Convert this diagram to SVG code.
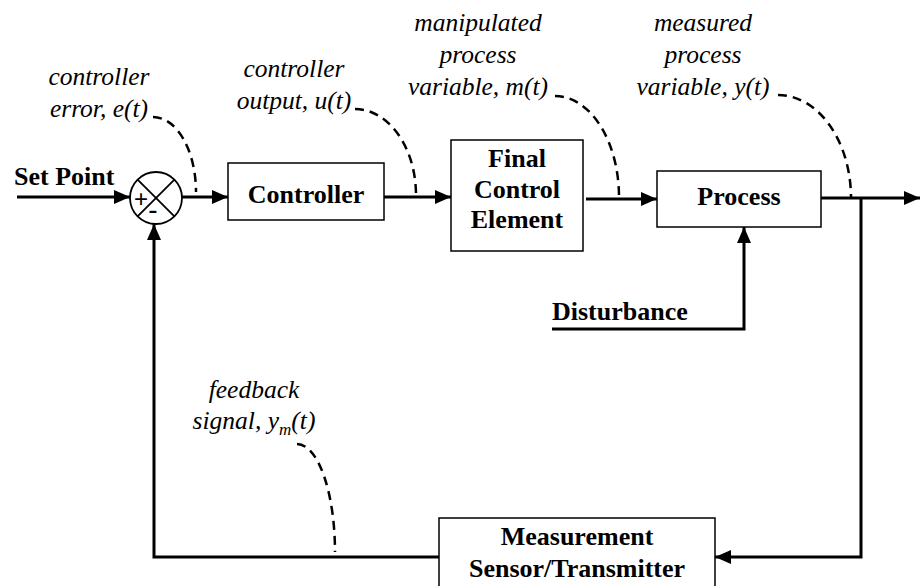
<svg xmlns="http://www.w3.org/2000/svg" width="920" height="586" viewBox="0 0 920 586">
<style>
.box{fill:#fff;stroke:#000;stroke-width:1.5}
.m{text-anchor:middle}
.ln{fill:none;stroke:#000;stroke-width:3}
.arr{marker-end:url(#ah)}
.dash{fill:none;stroke:#000;stroke-width:2.5;stroke-dasharray:9 6}
</style>
<defs>
<marker id="ah" markerUnits="userSpaceOnUse" markerWidth="17" markerHeight="14" refX="16" refY="7" orient="auto">
<path d="M0,0 L16,7 L0,14 z" fill="#000"/>
</marker>
</defs>
<g id="connectors">
<path class="ln arr" d="M17,197 L130,197"/>
<path class="ln arr" d="M182,197 L228,197"/>
<path class="ln arr" d="M384,197 L451,197"/>
<path class="ln arr" d="M586,199 L657,199"/>
<path class="ln arr" d="M821,198 L920,198"/>
<path class="ln arr" d="M861,198 L861,557 L715,557"/>
<path class="ln arr" d="M439,557 L154,557 L154,224"/>
<path class="ln arr" d="M552,329 L744,329 L744,227"/>
<path class="dash" d="M153,117 A43,75 0 0 1 196,192"/>
<path class="dash" d="M355,109 A61,86 0 0 1 416,195"/>
<path class="dash" d="M555,96 A64,101 0 0 1 619,197"/>
<path class="dash" d="M778,95 A73,103 0 0 1 851,198"/>
<path class="dash" d="M297,444 A38,108 0 0 1 335,552"/>
</g>
<g id="sum">
<circle cx="156" cy="198" r="26" fill="#fff" stroke="#000" stroke-width="1.8"/>
<line x1="137.6" y1="179.6" x2="174.4" y2="216.4" stroke="#000" stroke-width="1.8"/>
<line x1="174.4" y1="179.6" x2="137.6" y2="216.4" stroke="#000" stroke-width="1.8"/>
<text x="141" y="207" font-family="Liberation Sans, Arial, sans-serif" font-size="24" text-anchor="middle">+</text>
<text x="153" y="219" font-family="Liberation Sans, Arial, sans-serif" font-size="28" text-anchor="middle">-</text>
</g>
<g font-family="Liberation Serif, Times New Roman, Times, Noto Serif, DejaVu Serif, serif" font-weight="bold" font-size="26" fill="#000">
<g id="controller">
<rect class="box" x="228" y="163" width="156" height="57"/>
<text class="m" x="306" y="203">Controller</text>
</g>
<g id="fce">
<rect class="box" x="451" y="140" width="132" height="111"/>
<text class="m" x="517" y="167">Final</text>
<text class="m" x="517" y="198">Control</text>
<text class="m" x="517" y="228">Element</text>
</g>
<g id="process">
<rect class="box" x="657" y="171" width="164" height="56"/>
<text class="m" x="739" y="205">Process</text>
</g>
<g id="measurement">
<rect class="box" x="439" y="518" width="276" height="80"/>
<text class="m" x="577" y="545">Measurement</text>
<text class="m" x="577" y="577">Sensor/Transmitter</text>
</g>
<text x="14" y="185">Set Point</text>
<text x="552" y="320">Disturbance</text>
</g>
<g id="labels" font-family="Liberation Serif, Times New Roman, Times, Noto Serif, DejaVu Serif, serif" font-style="italic" font-size="25.5" fill="#000">
<text class="m" x="99" y="85">controller</text>
<text class="m" x="99" y="117">error, e(t)</text>
<text class="m" x="294" y="77">controller</text>
<text class="m" x="294" y="109">output, u(t)</text>
<text class="m" x="478" y="31">manipulated</text>
<text class="m" x="478" y="63">process</text>
<text class="m" x="478" y="95">variable, m(t)</text>
<text class="m" x="703" y="31">measured</text>
<text class="m" x="703" y="63">process</text>
<text class="m" x="703" y="95">variable, y(t)</text>
<text class="m" x="254" y="398">feedback</text>
<text class="m" x="254" y="429">signal, y<tspan font-size="17" dy="6">m</tspan><tspan dy="-6">(t)</tspan></text>
</g>
</svg>
